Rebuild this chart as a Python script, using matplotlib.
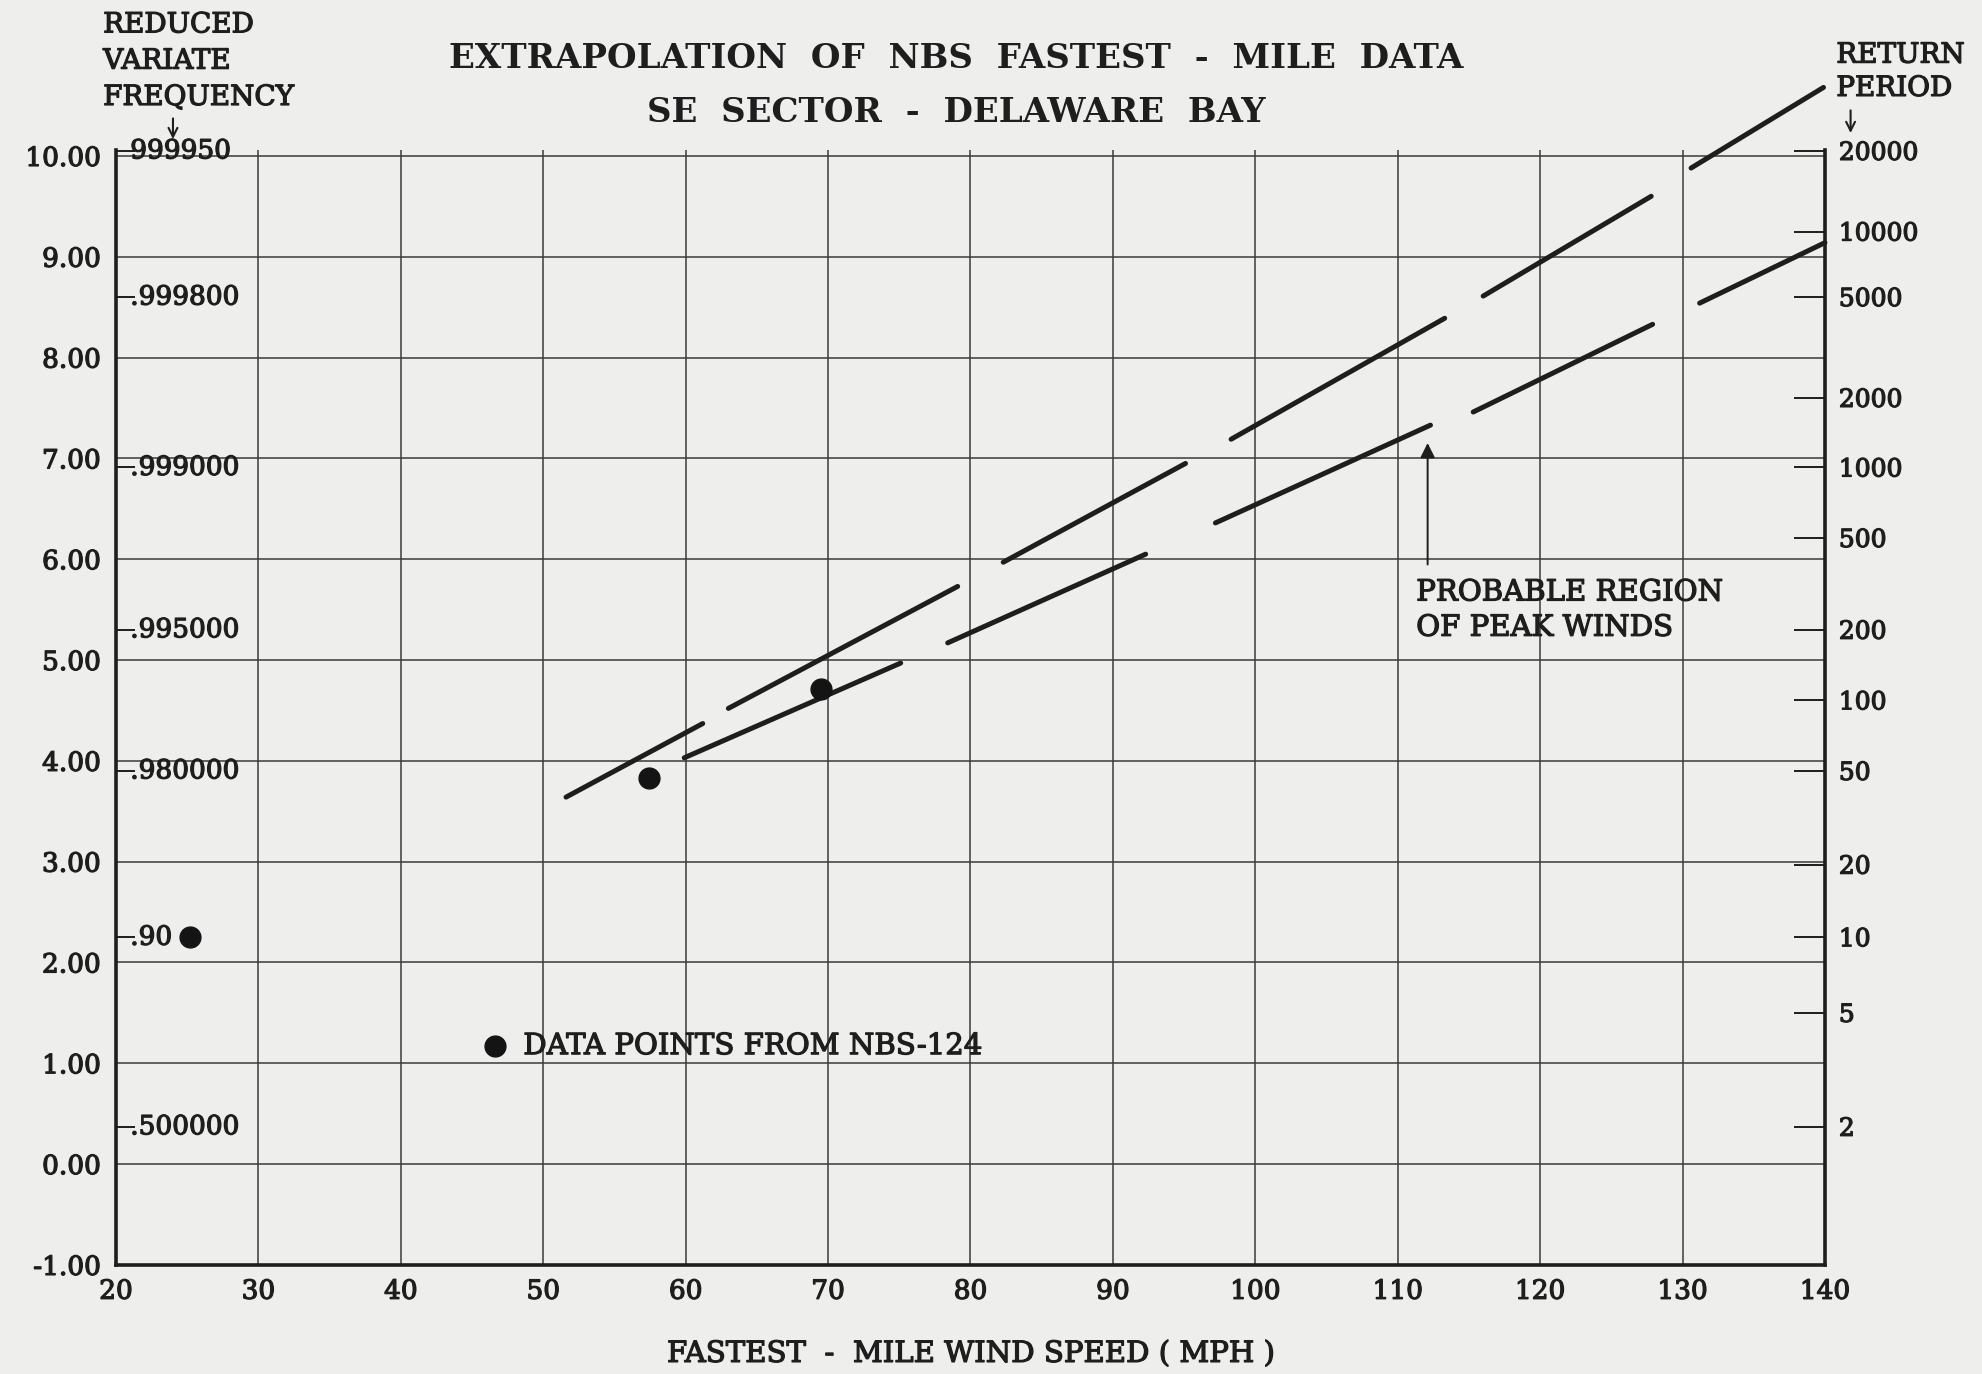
import matplotlib
matplotlib.use('Agg')
import matplotlib.pyplot as plt
import matplotlib.patheffects as pe

# axes scales
x_ticks = list(range(20, 141, 10))
y_ticks = [-1, 0, 1, 2, 3, 4, 5, 6, 7, 8, 9, 10]

# frequency scale written inside the left edge
freq_pos = [10.05, 8.60, 6.91, 5.30, 3.90, 2.25, 0.37]
freq_labels = ['999950', '.999800', '.999000', '.995000', '.980000', '.90', '.500000']

# return period scale on the right
period_pos = [10.05, 9.25, 8.60, 7.60, 6.91, 6.21, 5.30, 4.60, 3.90, 2.97, 2.25, 1.50, 0.37]
period_labels = ['20000', '10000', '5000', '2000', '1000', '500', '200', '100',
                 '50', '20', '10', '5', '2']

# data points from NBS-124
obs_speed = [25.2, 57.4, 69.5]
obs_variate = [2.25, 3.83, 4.71]

# extrapolation lines (long dashes), start/end of each dash
upper_x = [[51.6, 61.2], [63.0, 79.1], [82.3, 95.1], [98.3, 113.3], [116.0, 127.8], [130.6, 139.9]]
upper_y = [[3.64, 4.37], [4.52, 5.73], [5.97, 6.95], [7.19, 8.39], [8.61, 9.60], [9.88, 10.68]]
lower_x = [[59.9, 75.1], [78.4, 92.3], [97.2, 112.3], [115.3, 127.9], [131.2, 140.0]]
lower_y = [[4.03, 4.97], [5.17, 6.05], [6.36, 7.33], [7.46, 8.33], [8.54, 9.14]]

ink = '#1e1e1e'
paper = '#eeeeec'
# printed type in the scan looks heavier than a plain font
heavy = [pe.withStroke(linewidth=0.9, foreground=ink)]

plt.rcParams['font.family'] = ['DejaVu Serif']

fig = plt.figure(figsize=(19.83, 13.74), dpi=100, facecolor=paper)
ax = fig.add_axes([0.0585, 0.0794, 0.8618, 0.8115])
ax.set_facecolor(paper)

ax.set_xlim(20, 140)
ax.set_ylim(-1, 10.06)
ax.set_xticks(x_ticks)
ax.set_yticks(y_ticks)
ax.set_yticklabels([f'{v:.2f}' for v in y_ticks])
ax.grid(True, color='#3a3a3a', linewidth=1.1)
ax.set_axisbelow(True)
ax.tick_params(axis='both', length=0, labelsize=19, colors=ink)
ax.tick_params(axis='x', pad=10)
ax.tick_params(axis='y', pad=11)
for lab in ax.get_xticklabels() + ax.get_yticklabels():
    lab.set_path_effects(heavy)

for side in ['left', 'bottom', 'right']:
    ax.spines[side].set_linewidth(2.6)
    ax.spines[side].set_color(ink)
ax.spines['top'].set_visible(False)

# inward frequency ticks + labels on the left edge
ax.set_yticks(freq_pos, minor=True)
ax.tick_params(axis='y', which='minor', direction='in', length=14, width=1.4, color=ink)
for pos, lab in zip(freq_pos, freq_labels):
    ax.text(21.0, pos, lab, fontsize=19, color=ink, ha='left', va='center', path_effects=heavy)

# return period axis
ax2 = ax.twinx()
ax2.set_ylim(ax.get_ylim())
ax2.set_yticks(period_pos)
ax2.set_yticklabels(period_labels)
ax2.tick_params(axis='y', direction='in', length=22, width=1.4, color=ink,
                labelsize=18, labelcolor=ink, pad=10)
for lab in ax2.get_yticklabels():
    lab.set_path_effects(heavy)
for s in ax2.spines.values():
    s.set_visible(False)

# extrapolated lines
for xs, ys in zip(upper_x, upper_y):
    ax.plot(xs, ys, color=ink, linewidth=3.6, solid_capstyle='round', clip_on=False)
for xs, ys in zip(lower_x, lower_y):
    ax.plot(xs, ys, color=ink, linewidth=3.6, solid_capstyle='round', clip_on=False)

ax.plot(obs_speed, obs_variate, 'o', color='#141414', markersize=15, zorder=5)

# key
ax.plot([46.6], [1.17], 'o', color='#141414', markersize=15)
ax.text(48.6, 1.17, 'DATA POINTS FROM NBS-124', fontsize=21, color=ink, va='center',
        ha='left', path_effects=heavy)

# probable region annotation
ax.annotate('', xy=(112.1, 7.18), xytext=(112.1, 5.92),
            arrowprops=dict(arrowstyle='-|>', color=ink, lw=1.4, mutation_scale=22))
ax.text(111.3, 5.67, 'PROBABLE REGION', fontsize=21, color=ink, va='center', ha='left',
        path_effects=heavy)
ax.text(111.3, 5.32, 'OF PEAK WINDS', fontsize=21, color=ink, va='center', ha='left',
        path_effects=heavy)

# titles
ax.text(79.0, 10.97, 'EXTRAPOLATION  OF  NBS  FASTEST  -  MILE  DATA', fontsize=24.5,
        fontweight='bold', color=ink, ha='center', va='center', clip_on=False)
ax.text(79.0, 10.43, 'SE  SECTOR  -  DELAWARE  BAY', fontsize=24.5,
        fontweight='bold', color=ink, ha='center', va='center', clip_on=False)

# scale headers
hdr = dict(fontsize=20, color=ink, ha='left', va='center', clip_on=False, path_effects=heavy)
ax.text(19.1, 11.30, 'REDUCED', **hdr)
ax.text(19.1, 10.94, 'VARIATE', **hdr)
ax.text(19.1, 10.58, 'FREQUENCY', **hdr)
ax.annotate('', xy=(24.0, 10.14), xytext=(24.0, 10.40), annotation_clip=False,
            arrowprops=dict(arrowstyle='->', color=ink, lw=1.5, mutation_scale=16))

ax.text(140.8, 11.0, 'RETURN', **hdr)
ax.text(140.8, 10.67, 'PERIOD', **hdr)
ax.annotate('', xy=(141.8, 10.2), xytext=(141.8, 10.48), annotation_clip=False,
            arrowprops=dict(arrowstyle='->', color=ink, lw=1.5, mutation_scale=16))

ax.set_xlabel('FASTEST  -  MILE WIND SPEED ( MPH )', fontsize=21, color=ink, labelpad=26)
ax.xaxis.label.set_path_effects(heavy)

fig.savefig('out.png', dpi=100, facecolor=paper)
